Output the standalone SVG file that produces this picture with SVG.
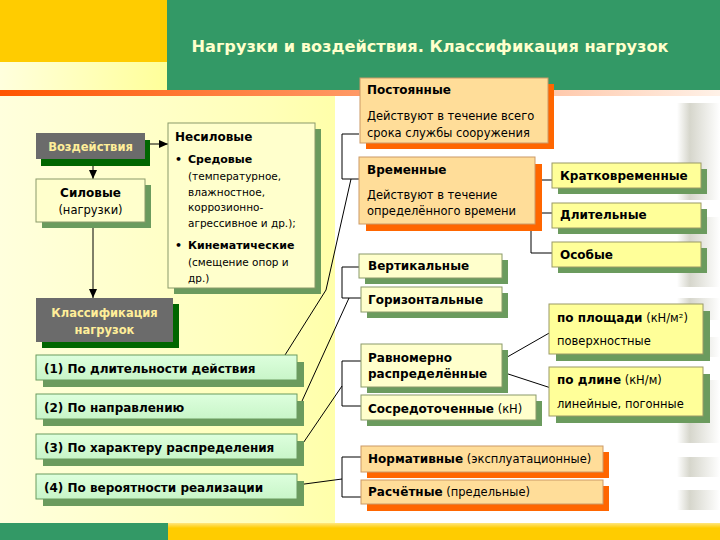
<svg xmlns="http://www.w3.org/2000/svg" width="720" height="540" viewBox="0 0 720 540">
<defs>
  <linearGradient id="leftbg" x1="0" y1="0" x2="1" y2="0">
    <stop offset="0" stop-color="#FFFFDD"/>
    <stop offset="0.8" stop-color="#FFFFB8"/>
    <stop offset="1" stop-color="#FFFFAA"/>
  </linearGradient>
  <linearGradient id="lightstrip" x1="0" y1="0" x2="1" y2="0">
    <stop offset="0" stop-color="#FFFFDD"/>
    <stop offset="1" stop-color="#FFFF99"/>
  </linearGradient>
  <linearGradient id="orangeLine" x1="0" y1="0" x2="1" y2="0">
    <stop offset="0" stop-color="#FF5500"/>
    <stop offset="0.5" stop-color="#FF9966"/>
    <stop offset="1" stop-color="#FFF2E8"/>
  </linearGradient>
  <linearGradient id="stripe" x1="0" y1="0" x2="1" y2="0">
    <stop offset="0" stop-color="#FFFFFF"/>
    <stop offset="0.3" stop-color="#D6D6CC"/>
    <stop offset="1" stop-color="#FFFFFF"/>
  </linearGradient>
  <linearGradient id="bottomY" x1="0" y1="0" x2="0" y2="1">
    <stop offset="0" stop-color="#FFE680"/>
    <stop offset="0.3" stop-color="#FFCC00"/>
    <stop offset="1" stop-color="#FFCC00"/>
  </linearGradient>
  <linearGradient id="greenFill" x1="0" y1="0" x2="0" y2="1">
    <stop offset="0" stop-color="#DDFFDD"/>
    <stop offset="1" stop-color="#C8F5C8"/>
  </linearGradient>
  <marker id="arr" markerUnits="userSpaceOnUse" markerWidth="9" markerHeight="8" refX="9" refY="4" orient="auto">
    <path d="M0,0 L9,4 L0,8 z" fill="#000"/>
  </marker>
</defs>
<style>
  text { font-family: "DejaVu Sans", Verdana, sans-serif; fill: #000; }
  .b { font-weight: bold; font-size: 12px; }
  .n { font-size: 11.5px; }
  .bs { font-weight: bold; font-size: 11px; }
  .ns { font-size: 10.5px; }
  .lt { fill: #FFEE99; font-weight: bold; font-size: 11.5px; }
  .mid { text-anchor: middle; }
  .gsh { fill: #6B9B5E; }
  .dsh { fill: #006600; }
  .osh { fill: #FF6600; }
  .gray { fill: #6B6B6B; }
  .cream { fill: #FFFFCC; stroke: #8A9A6A; stroke-width: 1; }
  .green { fill: url(#greenFill); stroke: #6B9B5E; stroke-width: 1; }
  .wheat { fill: #FFDD99; stroke: #CC9966; stroke-width: 1; }
  .yellow { fill: #FFFF99; stroke: #9A9A66; stroke-width: 1; }
  .conn { stroke: #000; fill: none; stroke-width: 1; }
</style>

<!-- background -->
<rect x="0" y="0" width="720" height="540" fill="#FFFFFF"/>
<rect x="0" y="96" width="335" height="427" fill="url(#leftbg)"/>
<g fill="url(#stripe)">
  <rect x="677" y="103" width="43" height="97"/>
  <rect x="677" y="217" width="43" height="70"/>
  <rect x="677" y="298" width="43" height="22"/>
  <rect x="677" y="337" width="43" height="20"/>
  <rect x="677" y="380" width="43" height="63"/>
  <rect x="677" y="457" width="43" height="20"/>
  <rect x="677" y="490" width="43" height="20"/>
</g>
<rect x="0" y="0" width="167" height="62" fill="#FFCC00"/>
<rect x="0" y="62" width="167" height="28" fill="url(#lightstrip)"/>
<rect x="167" y="0" width="553" height="90" fill="#339966"/>
<rect x="0" y="90" width="720" height="6" fill="url(#orangeLine)"/>
<rect x="0" y="523" width="168" height="17" fill="#339966"/>
<rect x="168" y="523" width="552" height="17" fill="url(#bottomY)"/>
<text x="430" y="52" text-anchor="middle" style="font-size:15px;font-weight:bold;fill:#FFFFCC" textLength="477" lengthAdjust="spacingAndGlyphs">Нагрузки и воздействия. Классификация нагрузок</text>

<!-- connectors -->
<g id="connectors">
  <line class="conn" x1="145" y1="144" x2="168" y2="144" marker-end="url(#arr)"/>
  <line class="conn" x1="93" y1="159" x2="93" y2="179" marker-end="url(#arr)"/>
  <line class="conn" x1="93" y1="222" x2="93" y2="298" marker-end="url(#arr)"/>
  <polyline class="conn" points="359,134 342,134 342,179 359,179"/>
  <polyline class="conn" points="285,355 326,290 351,179"/>
  <polyline class="conn" points="359,267 342,267 342,298 361,298"/>
  <line class="conn" x1="297" y1="412" x2="349" y2="298"/>
  <polyline class="conn" points="361,361 342,361 342,406 361,406"/>
  <line class="conn" x1="297" y1="452" x2="342" y2="386"/>
  <polyline class="conn" points="361,457 342,457 342,497 361,497"/>
  <line class="conn" x1="297" y1="485" x2="342" y2="479"/>
  <line class="conn" x1="535" y1="180" x2="552" y2="180"/>
  <line class="conn" x1="535" y1="213" x2="552" y2="213"/>
  <polyline class="conn" points="531,224 531,253 552,253"/>
  <line class="conn" x1="502" y1="360" x2="551" y2="332"/>
  <line class="conn" x1="502" y1="372" x2="551" y2="388"/>
</g>

<!-- left column -->
<g id="vozdeystviya">
  <rect class="dsh" x="41" y="140" width="109" height="26"/>
  <rect class="gray" x="36" y="133" width="109" height="26"/>
  <text class="lt mid" x="90.5" y="151">Воздействия</text>
</g>
<g id="silovye">
  <rect class="gsh" x="42" y="185" width="109" height="43"/>
  <rect class="cream" x="36" y="179" width="109" height="43"/>
  <text class="b mid" x="90.5" y="197">Силовые</text>
  <text class="n mid" x="90.5" y="214">(нагрузки)</text>
</g>
<g id="nesilovye">
  <rect class="gsh" x="174" y="129" width="147" height="165"/>
  <rect class="cream" x="168" y="123" width="147" height="165"/>
  <text class="b" x="175" y="141">Несиловые</text>
  <text class="bs" x="175" y="163">•</text>
  <text class="bs" x="188" y="163">Средовые</text>
  <text class="ns" x="188" y="180">(температурное,</text>
  <text class="ns" x="188" y="196">влажностное,</text>
  <text class="ns" x="188" y="211">коррозионно-</text>
  <text class="ns" x="188" y="227">агрессивное и др.);</text>
  <text class="bs" x="175" y="249">•</text>
  <text class="bs" x="188" y="249">Кинематические</text>
  <text class="ns" x="188" y="266">(смещение опор и</text>
  <text class="ns" x="188" y="282">др.)</text>
</g>
<g id="klassifikatsiya">
  <rect class="dsh" x="42" y="304" width="137" height="44"/>
  <rect class="gray" x="36" y="298" width="137" height="44"/>
  <text class="lt mid" x="104.5" y="317">Классификация</text>
  <text class="lt mid" x="104.5" y="334">нагрузок</text>
</g>
<g id="k1">
  <rect class="gsh" x="43" y="362" width="261" height="25"/>
  <rect class="green" x="36" y="355" width="261" height="25"/>
  <text class="b" x="44" y="373">(1) По длительности действия</text>
</g>
<g id="k2">
  <rect class="gsh" x="43" y="401" width="261" height="25"/>
  <rect class="green" x="36" y="394" width="261" height="25"/>
  <text class="b" x="44" y="412">(2) По направлению</text>
</g>
<g id="k3">
  <rect class="gsh" x="43" y="441" width="261" height="25"/>
  <rect class="green" x="36" y="434" width="261" height="25"/>
  <text class="b" x="44" y="452">(3) По характеру распределения</text>
</g>
<g id="k4">
  <rect class="gsh" x="43" y="481" width="261" height="25"/>
  <rect class="green" x="36" y="474" width="261" height="25"/>
  <text class="b" x="44" y="492">(4) По вероятности реализации</text>
</g>

<!-- right column -->
<g id="postoyannye">
  <rect class="osh" x="366" y="84" width="188" height="65"/>
  <rect class="wheat" x="360" y="78" width="188" height="65"/>
  <text class="b" x="367" y="94">Постоянные</text>
  <text class="n" x="367" y="120">Действуют в течение всего</text>
  <text class="n" x="367" y="137">срока службы сооружения</text>
</g>
<g id="vremennye">
  <rect class="osh" x="366" y="164" width="176" height="67"/>
  <rect class="wheat" x="359" y="157" width="176" height="67"/>
  <text class="b" x="367" y="174">Временные</text>
  <text class="n" x="367" y="199">Действуют в течение</text>
  <text class="n" x="367" y="215">определённого времени</text>
</g>
<g id="kratkovremennye">
  <rect class="gsh" x="558" y="169" width="149" height="25"/>
  <rect class="yellow" x="552" y="163" width="149" height="25"/>
  <text class="b" x="560" y="180">Кратковременные</text>
</g>
<g id="dlitelnye">
  <rect class="gsh" x="558" y="209" width="149" height="25"/>
  <rect class="yellow" x="552" y="203" width="149" height="25"/>
  <text class="b" x="560" y="219">Длительные</text>
</g>
<g id="osobye">
  <rect class="gsh" x="558" y="248" width="149" height="25"/>
  <rect class="yellow" x="552" y="242" width="149" height="25"/>
  <text class="b" x="560" y="259">Особые</text>
</g>
<g id="vertikalnye">
  <rect class="gsh" x="365" y="260" width="143" height="24"/>
  <rect class="cream" x="359" y="254" width="143" height="24"/>
  <text class="b" x="368" y="270">Вертикальные</text>
</g>
<g id="gorizontalnye">
  <rect class="gsh" x="367" y="293" width="141" height="25"/>
  <rect class="cream" x="361" y="287" width="141" height="25"/>
  <text class="b" x="368" y="304">Горизонтальные</text>
</g>
<g id="ravnomerno">
  <rect class="gsh" x="367" y="350" width="141" height="43"/>
  <rect class="cream" x="361" y="344" width="141" height="43"/>
  <text class="b" x="368" y="362">Равномерно</text>
  <text class="b" x="368" y="378">распределённые</text>
</g>
<g id="sosredotochennye">
  <rect class="gsh" x="367" y="401" width="175" height="25"/>
  <rect class="cream" x="361" y="395" width="175" height="25"/>
  <text x="368" y="413"><tspan class="b">Сосредоточенные</tspan><tspan class="n"> (кН)</tspan></text>
</g>
<g id="po-ploshchadi">
  <rect class="gsh" x="556" y="311" width="154" height="50"/>
  <rect class="yellow" x="549" y="304" width="154" height="50"/>
  <text x="557" y="322"><tspan class="b">по площади</tspan><tspan class="n"> (кН/м²)</tspan></text>
  <text class="n" x="557" y="345">поверхностные</text>
</g>
<g id="po-dline">
  <rect class="gsh" x="556" y="374" width="154" height="49"/>
  <rect class="yellow" x="549" y="367" width="154" height="49"/>
  <text x="557" y="384"><tspan class="b">по длине</tspan><tspan class="n"> (кН/м)</tspan></text>
  <text class="n" x="557" y="408">линейные, погонные</text>
</g>
<g id="normativnye">
  <rect class="osh" x="367" y="452" width="242" height="26"/>
  <rect class="wheat" x="361" y="446" width="242" height="26"/>
  <text x="368" y="463"><tspan class="b">Нормативные</tspan><tspan class="n"> (эксплуатационные)</tspan></text>
</g>
<g id="raschetnye">
  <rect class="osh" x="367" y="486" width="242" height="25"/>
  <rect class="wheat" x="361" y="480" width="242" height="24"/>
  <text x="368" y="496"><tspan class="b">Расчётные</tspan><tspan class="n"> (предельные)</tspan></text>
</g>
</svg>
